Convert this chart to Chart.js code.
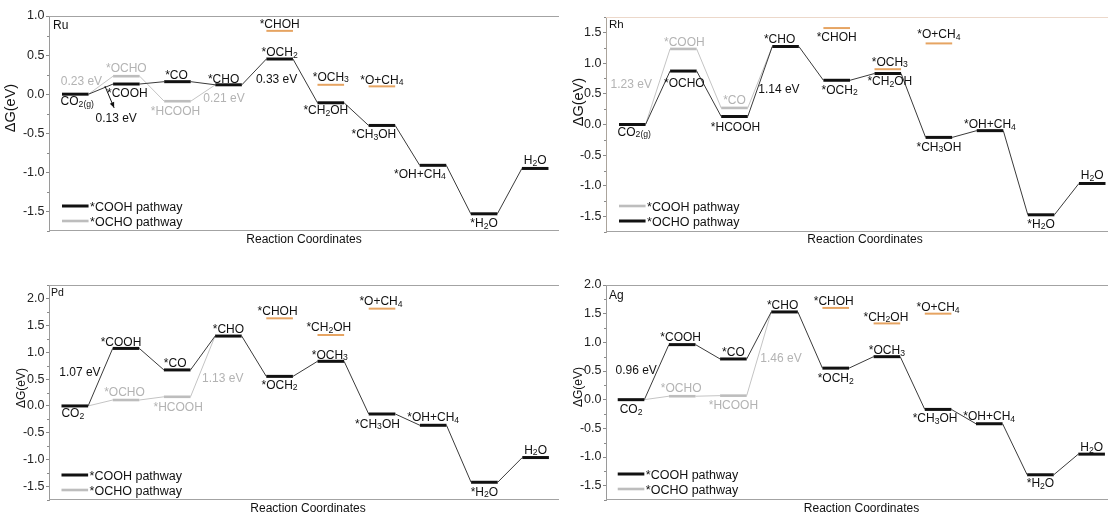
<!DOCTYPE html>
<html>
<head>
<meta charset="utf-8">
<title>CO2 reduction free energy diagrams</title>
<script src="https://cdn.jsdelivr.net/npm/chart.js@4.4.1/dist/chart.umd.min.js"></script>
<style>
  html, body { margin: 0; padding: 0; background: #ffffff; width: 1108px; height: 513px; overflow: hidden; }
  .panel { position: absolute; }
  canvas { display: block; }
</style>
</head>
<body>
<div class="panel" style="left:0;top:0;"><canvas id="ru" width="560" height="256"></canvas></div>
<div class="panel" style="left:560px;top:0;"><canvas id="rh" width="548" height="256"></canvas></div>
<div class="panel" style="left:0;top:270px;"><canvas id="pd" width="560" height="243"></canvas></div>
<div class="panel" style="left:560px;top:270px;"><canvas id="ag" width="548" height="243"></canvas></div>
<script>
// ---------------- data (ΔG in eV) ----------------
// Species use {..} for subscripts.
// Ru
const ruSpecies    = ['CO{2(g)}', '*COOH', '*CO', '*CHO', '*OCH{2}', '*CH{2}OH', '*CH{3}OH', '*OH+CH{4}', '*H{2}O', 'H{2}O'];
const ruCOOH       = [0, 0.13, 0.16, 0.12, 0.45, -0.11, -0.40, -0.91, -1.53, -0.95];
const ruAltSpecies = ['CO{2(g)}', '*OCHO', '*HCOOH', '*CHO'];
const ruOCHO       = [0, 0.23, -0.09, 0.12];
const ruSideSpecies = ['*CHOH', '*OCH{3}', '*O+CH{4}'];
const ruSide       = [0.81, 0.12, 0.10];
const ruTicks      = [-1.5, -1.0, -0.5, 0.0, 0.5, 1.0];

// Rh
const rhSpecies    = ['CO{2(g)}', '*OCHO', '*HCOOH', '*CHO', '*OCH{2}', '*CH{2}OH', '*CH{3}OH', '*OH+CH{4}', '*H{2}O', 'H{2}O'];
const rhOCHO       = [0, 0.87, 0.13, 1.27, 0.72, 0.83, -0.21, -0.10, -1.47, -0.96];
const rhAltSpecies = ['CO{2(g)}', '*COOH', '*CO', '*CHO'];
const rhCOOH       = [0, 1.23, 0.27, 1.27];
const rhSideSpecies = ['*CHOH', '*OCH{3}', '*O+CH{4}'];
const rhSide       = [1.57, 0.90, 1.32];
const rhTicks      = [-1.5, -1.0, -0.5, 0.0, 0.5, 1.0, 1.5];

// Pd
const pdSpecies    = ['CO{2}', '*COOH', '*CO', '*CHO', '*OCH{2}', '*OCH{3}', '*CH{3}OH', '*OH+CH{4}', '*H{2}O', 'H{2}O'];
const pdCOOH       = [0, 1.07, 0.67, 1.30, 0.55, 0.83, -0.15, -0.36, -1.42, -0.96];
const pdAltSpecies = ['CO{2}', '*OCHO', '*HCOOH', '*CHO'];
const pdOCHO       = [0, 0.11, 0.17, 1.30];
const pdSideSpecies = ['*CHOH', '*CH{2}OH', '*O+CH{4}'];
const pdSide       = [1.63, 1.32, 1.81];
const pdTicks      = [-1.5, -1.0, -0.5, 0.0, 0.5, 1.0, 1.5, 2.0];

// Ag
const agSpecies    = ['CO{2}', '*COOH', '*CO', '*CHO', '*OCH{2}', '*OCH{3}', '*CH{3}OH', '*OH+CH{4}', '*H{2}O', 'H{2}O'];
const agCOOH       = [0, 0.96, 0.71, 1.53, 0.55, 0.75, -0.17, -0.42, -1.31, -0.95];
const agAltSpecies = ['CO{2}', '*OCHO', '*HCOOH', '*CHO'];
const agOCHO       = [0, 0.06, 0.07, 1.53];
const agSideSpecies = ['*CHOH', '*CH{2}OH', '*O+CH{4}'];
const agSide       = [1.60, 1.33, 1.50];
const agTicks      = [-1.5, -1.0, -0.5, 0.0, 0.5, 1.0, 1.5, 2.0];

// ---------------- styling ----------------
const FONT = '"Liberation Sans", Arial, Helvetica, sans-serif';
const LEVEL_W = 0.52;            // width of one energy level in reaction-coordinate units
const BLACK = '#111111', BLACK_LINK = '#3a3a3a';
const GREY = '#bdbdbd', GREY_LINK = '#c4c4c4', GREY_TEXT = '#b3b3b3';
const ORANGE = '#e6a462';
const SIDE_STEPS = [4, 5, 6];    // reaction-coordinate slots of the side intermediates

// Placement of species labels: [side, dx(px), dy(px)]; 'a' = above the level, 'b' = below
const ruPlace = {
  main: [['b',2,-1.5],['b',1,0.5],['a',-1,0],['a',-5,1.3],['a',0,0],['b',-5,-1],['b',-8,0],['b',-13,0],['b',0,1],['a',0,-1]],
  alt:  [null,['a',0,-1],['b',-2,1],null],
  side: [['a',0,0.5],['a',0,-1],['a',0,0.3]]
};
const rhPlace = {
  main: [['b',2,-1.5],['b',1,3.5],['b',1,1.5],['a',-6,0],['b',3,1],['b',2,-1],['b',0,1],['a',0,0.3],['b',0,0.5],['a',0,-1]],
  alt:  [null,['a',1,-0.3],['a',0,-0.5],null],
  side: [['b',0,0.5],['a',2,-0.3],['a',0,-2]]
};
const pdPlace = {
  main: [['b',-2,-1],['a',-5,0.7],['a',-2,-0.3],['a',0,-0.3],['b',0,0],['a',-1,0.5],['b',-4.5,1],['a',0,-1],['b',0,1],['a',0,-1]],
  alt:  [null,['a',-1.5,-1],['b',1,2],null],
  side: [['a',-2,-0.3],['a',-2,-1],['a',-1,-0.5]]
};
const agPlace = {
  main: [['b',0,1],['a',-1.5,-0.3],['a',0,-0.3],['a',-2,-0.4],['b',0,1.5],['a',0,0.3],['b',-3,0.5],['a',0,-0.3],['b',0,0],['a',0,0]],
  alt:  [null,['a',-1,-1],['b',0,1],null],
  side: [['a',-2,-0.4],['a',-1,0.3],['a',0,0.4]]
};

// ---------------- helpers ----------------
function richParts(text) {
  const parts = []; const re = /\{([^}]*)\}/g; let last = 0, m;
  while ((m = re.exec(text))) {
    if (m.index > last) parts.push({ s: text.slice(last, m.index), sub: false });
    parts.push({ s: m[1], sub: true });
    last = re.lastIndex;
  }
  if (last < text.length) parts.push({ s: text.slice(last), sub: false });
  return parts;
}
function drawRich(ctx, text, x, y, size, color, align) {
  const parts = richParts(text);
  const subSize = size * 0.72;
  let total = 0;
  parts.forEach(p => { ctx.font = (p.sub ? subSize : size) + 'px ' + FONT; p.w = ctx.measureText(p.s).width; total += p.w; });
  let cx = align === 'center' ? x - total / 2 : (align === 'right' ? x - total : x);
  ctx.fillStyle = color; ctx.textAlign = 'left'; ctx.textBaseline = 'alphabetic';
  parts.forEach(p => {
    ctx.font = (p.sub ? subSize : size) + 'px ' + FONT;
    ctx.fillText(p.s, cx, y + (p.sub ? size * 0.13 : 0));
    cx += p.w;
  });
}
// Points for a pathway: every drawn level gives a start and end point.
function pathPoints(values, drawFlags) {
  const pts = [], thick = [];
  values.forEach((v, k) => {
    if (drawFlags[k]) { pts.push({ x: k, y: v }); thick.push(true); pts.push({ x: k + LEVEL_W, y: v }); thick.push(false); }
    else if (k === 0) { pts.push({ x: k + LEVEL_W, y: v }); thick.push(false); }
    else { pts.push({ x: k, y: v }); thick.push(false); }
  });
  return { pts, thick };
}
function pathDataset(label, values, drawFlags, color, linkColor, levelWidth) {
  const p = pathPoints(values, drawFlags);
  return {
    label, data: p.pts, borderColor: color, borderWidth: 1, pointRadius: 0, tension: 0,
    borderCapStyle: 'butt', fill: false,
    segment: {
      borderWidth: c => p.thick[c.p0DataIndex] ? levelWidth : 1,
      borderColor: c => p.thick[c.p0DataIndex] ? color : linkColor
    }
  };
}
function sideDatasets(values) {
  return values.map((v, k) => ({
    label: '', data: [{ x: SIDE_STEPS[k], y: v }, { x: SIDE_STEPS[k] + LEVEL_W, y: v }],
    borderColor: ORANGE, borderWidth: 2, pointRadius: 0, borderCapStyle: 'butt', fill: false
  }));
}
const fmtTick = v => { const n = Math.abs(v) < 1e-9 ? 0 : Number(v); return n.toFixed(1); };

// ---------------- panel builder ----------------
function makePanel(cfg) {
  const mainFlags = cfg.mainValues.map(() => true);
  const altFlags = cfg.altValues.map((_, k) => k > 0 && k < cfg.altValues.length - 1);
  const mainDs = pathDataset(cfg.mainLabel, cfg.mainValues, mainFlags, BLACK, BLACK_LINK, 3);
  const altDs = pathDataset(cfg.altLabel, cfg.altValues, altFlags, GREY, GREY_LINK, 2.6);
  const datasets = [mainDs, altDs].concat(sideDatasets(cfg.sideValues));
  const series = { main: cfg.mainValues, alt: cfg.altValues };

  const decor = {
    id: 'decor_' + cfg.id,
    afterDraw(chart) {
      const ctx = chart.ctx, xs = chart.scales.x, ys = chart.scales.y, a = chart.chartArea;
      ctx.save();
      // frame: top and bottom edges
      ctx.lineWidth = 1;
      ctx.strokeStyle = cfg.topColor || '#a3a3a3';
      ctx.beginPath(); ctx.moveTo(a.left, Math.round(a.top) + 0.5); ctx.lineTo(a.right, Math.round(a.top) + 0.5); ctx.stroke();
      ctx.strokeStyle = '#a3a3a3';
      ctx.beginPath(); ctx.moveTo(a.left, Math.round(a.bottom) - 0.5); ctx.lineTo(a.right, Math.round(a.bottom) - 0.5); ctx.stroke();
      // minor ticks on the energy axis
      ctx.strokeStyle = '#8a8a8a';
      for (let v = Math.ceil(ys.min / 0.25) * 0.25; v <= ys.max + 1e-9; v += 0.25) {
        if (Math.abs(v / 0.5 - Math.round(v / 0.5)) < 1e-6) continue;
        const py = Math.round(ys.getPixelForValue(v)) + 0.5;
        ctx.beginPath(); ctx.moveTo(a.left - 2, py); ctx.lineTo(a.left, py); ctx.stroke();
      }
      const lx = k => xs.getPixelForValue(k + LEVEL_W / 2);
      const label = (text, k, v, place, color) => {
        if (!place) return;
        const py = ys.getPixelForValue(v);
        const base = place[0] === 'a' ? py - 3 : py + 12.5;
        drawRich(ctx, text, lx(k) + place[1], base + place[2], 12, color, 'center');
      };
      cfg.mainSpecies.forEach((s, k) => label(s, k, cfg.mainValues[k], cfg.place.main[k], BLACK));
      cfg.altSpecies.forEach((s, k) => label(s, k, cfg.altValues[k], cfg.place.alt[k], GREY_TEXT));
      cfg.sideSpecies.forEach((s, k) => label(s, SIDE_STEPS[k], cfg.sideValues[k], cfg.place.side[k], BLACK));
      // barrier notes, text computed from the levels they span
      cfg.barriers.forEach(b => {
        const vals = series[b.path];
        const dG = (vals[b.to] - vals[b.from]).toFixed(2) + ' eV';
        const px = xs.getPixelForValue(b.at[0]), py = ys.getPixelForValue(b.at[1]);
        drawRich(ctx, dG, px, py + 4.3, 12, b.path === 'main' ? BLACK : GREY_TEXT, 'center');
        if (b.arrow) {
          const x1 = xs.getPixelForValue(b.arrow[0]), y1 = ys.getPixelForValue(b.arrow[1]);
          const x2 = xs.getPixelForValue(b.arrow[2]), y2 = ys.getPixelForValue(b.arrow[3]);
          ctx.strokeStyle = BLACK; ctx.fillStyle = BLACK; ctx.lineWidth = 1;
          ctx.beginPath(); ctx.moveTo(x1, y1); ctx.lineTo(x2, y2); ctx.stroke();
          const ang = Math.atan2(y2 - y1, x2 - x1), h = 6;
          ctx.beginPath(); ctx.moveTo(x2, y2);
          ctx.lineTo(x2 - h * Math.cos(ang - 0.4), y2 - h * Math.sin(ang - 0.4));
          ctx.lineTo(x2 - h * Math.cos(ang + 0.4), y2 - h * Math.sin(ang + 0.4));
          ctx.closePath(); ctx.fill();
        }
      });
      // legend
      const lgX0 = xs.getPixelForValue(0), lgX1 = xs.getPixelForValue(LEVEL_W);
      cfg.legend.forEach((item, i) => {
        const ds = item === 'main' ? mainDs : altDs;
        const y = a.bottom + cfg.legendY + 15 * i;
        ctx.strokeStyle = item === 'main' ? BLACK : GREY; ctx.lineWidth = item === 'main' ? 3 : 2.6;
        ctx.beginPath(); ctx.moveTo(lgX0, y); ctx.lineTo(lgX1, y); ctx.stroke();
        drawRich(ctx, ds.label, lgX1 + 1.5, y + 4.5, 12.5, '#111', 'left');
      });
      // metal label
      drawRich(ctx, cfg.metal, a.left + cfg.metalPos[0], a.top + cfg.metalPos[1], cfg.metalSize, '#111', 'left');
      // axis titles
      drawRich(ctx, 'Reaction Coordinates', cfg.xTitle[0], cfg.xTitle[1], 12, '#111', 'center');
      ctx.translate(cfg.yTitle[0], cfg.yTitle[1]); ctx.rotate(-Math.PI / 2);
      ctx.font = cfg.yTitleSize + 'px ' + FONT; ctx.fillStyle = '#111'; ctx.textAlign = 'center'; ctx.textBaseline = 'middle';
      ctx.fillText('\u0394G(eV)', 0, 0);
      ctx.restore();
    }
  };

  return new Chart(document.getElementById(cfg.id), {
    type: 'line',
    data: { datasets },
    options: {
      responsive: false, animation: false, devicePixelRatio: 1,
      layout: { padding: cfg.padding },
      plugins: { legend: { display: false }, tooltip: { enabled: false } },
      scales: {
        x: { type: 'linear', min: cfg.xRange[0], max: cfg.xRange[1], display: false },
        y: {
          type: 'linear', min: -1.75, max: cfg.yMax,
          afterFit: s => { s.width = cfg.axisW; },
          afterBuildTicks: s => { s.ticks = cfg.ticks.map(v => ({ value: v })); },
          ticks: { callback: v => fmtTick(v), font: { family: FONT, size: 12.5 }, color: '#222', padding: 1.5 },
          grid: { drawOnChartArea: false, drawTicks: true, tickLength: 3, tickColor: '#8a8a8a', tickWidth: 1 },
          border: { display: true, color: cfg.axisColor || '#9a9a9a', width: 1 }
        }
      }
    },
    plugins: [decor]
  });
}

makePanel({
  id: 'ru', metal: 'Ru', metalPos: [4, 13.3], metalSize: 12,
  mainLabel: '*COOH pathway', mainSpecies: ruSpecies, mainValues: ruCOOH,
  altLabel: '*OCHO pathway', altSpecies: ruAltSpecies, altValues: ruOCHO,
  sideSpecies: ruSideSpecies, sideValues: ruSide, ticks: ruTicks, yMax: 1.0,
  place: ruPlace, legend: ['main', 'alt'], legendY: -25, 
  barriers: [
    { path: 'alt', from: 0, to: 1, at: [0.38, 0.17] },
    { path: 'main', from: 0, to: 1, at: [1.06, -0.30], arrow: [0.84, 0.105, 1.02, -0.175] },
    { path: 'alt', from: 2, to: 3, at: [3.17, -0.05] },
    { path: 'main', from: 3, to: 4, at: [4.2, 0.195] }
  ],
  xRange: [-0.254, 9.726], axisW: 49, padding: { left: 0, top: 16, right: 1, bottom: 25 },
  xTitle: [304, 243], yTitle: [11, 108], yTitleSize: 14.5
});

makePanel({
  id: 'rh', metal: 'Rh', metalPos: [3, 10.7], metalSize: 11.5,
  mainLabel: '*OCHO pathway', mainSpecies: rhSpecies, mainValues: rhOCHO,
  altLabel: '*COOH pathway', altSpecies: rhAltSpecies, altValues: rhCOOH,
  sideSpecies: rhSideSpecies, sideValues: rhSide, ticks: rhTicks, yMax: 1.75,
  place: rhPlace, legend: ['alt', 'main'], legendY: -26,
  barriers: [
    { path: 'alt', from: 0, to: 1, at: [0.24, 0.67] },
    { path: 'main', from: 2, to: 3, at: [3.13, 0.59] }
  ],
  xRange: [-0.254, 9.569], axisW: 46, padding: { left: 0, top: 17, right: 0, bottom: 24 },
  topColor: '#ecd8ca', axisColor: '#aba49c',
  xTitle: [305, 243], yTitle: [19, 102], yTitleSize: 14.5
});

makePanel({
  id: 'pd', metal: 'Pd', metalPos: [2, 10.7], metalSize: 10.5,
  mainLabel: '*COOH pathway', mainSpecies: pdSpecies, mainValues: pdCOOH,
  altLabel: '*OCHO pathway', altSpecies: pdAltSpecies, altValues: pdOCHO,
  sideSpecies: pdSideSpecies, sideValues: pdSide, ticks: pdTicks, yMax: 2.25,
  place: pdPlace, legend: ['main', 'alt'], legendY: -25,
  barriers: [
    { path: 'main', from: 0, to: 1, at: [0.36, 0.63] },
    { path: 'alt', from: 2, to: 3, at: [3.15, 0.53] }
  ],
  xRange: [-0.244, 9.717], axisW: 49, padding: { left: 0, top: 15, right: 1, bottom: 13 },
  xTitle: [308, 241.5], yTitle: [22, 118], yTitleSize: 12
});

makePanel({
  id: 'ag', metal: 'Ag', metalPos: [3, 14.3], metalSize: 12,
  mainLabel: '*COOH pathway', mainSpecies: agSpecies, mainValues: agCOOH,
  altLabel: '*OCHO pathway', altSpecies: agAltSpecies, altValues: agOCHO,
  sideSpecies: agSideSpecies, sideValues: agSide, ticks: agTicks, yMax: 2.0,
  place: agPlace, legend: ['main', 'alt'], legendY: -26,
  barriers: [
    { path: 'main', from: 0, to: 1, at: [0.36, 0.53] },
    { path: 'alt', from: 2, to: 3, at: [3.19, 0.73] }
  ],
  xRange: [-0.229, 9.58], axisW: 46, padding: { left: 0, top: 15, right: 0, bottom: 13 },
  xTitle: [301.5, 241.5], yTitle: [19, 117], yTitleSize: 12
});
</script>
</body>
</html>
